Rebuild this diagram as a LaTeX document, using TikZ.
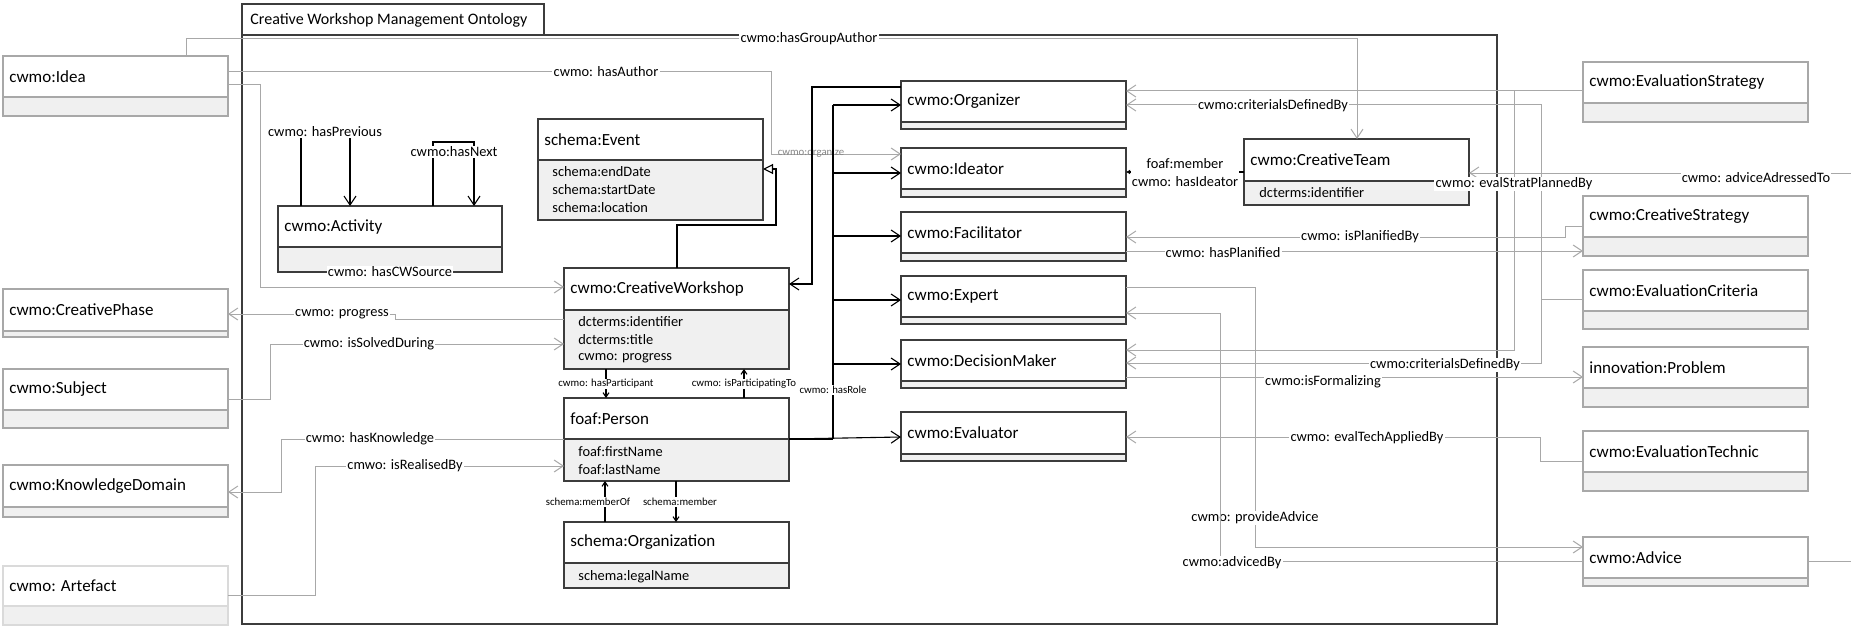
\documentclass[tikz,border=0pt]{standalone}
\usepackage{fontspec}
\setmainfont{Carlito}
\usetikzlibrary{arrows.meta,fit,calc}
\definecolor{lg}{HTML}{A8A8A8}
\definecolor{dk}{HTML}{3C3C3C}
\definecolor{af}{HTML}{F0F0F0}
\definecolor{vlg}{HTML}{DADADA}
\newcommand\umlbox[8]{%
  \fill[af] (#2,#5) rectangle (#4,#6);
  \draw[#8] (#2,#3) rectangle (#4,#6);
  \draw[#8] (#2,#5) -- (#4,#5);
  \node[inner sep=0pt, outer sep=0pt, fit={(#2,#3)(#4,#6)}] (#1) {};
  \node[ttl, anchor=west] (#1-t) at ({#2+6},{(#3+#5)/2}) {#7};
}
\newcommand\umlattr[4]{\node[att, anchor=west] (#1) at (#2,#3) {#4};}
\begin{document}
\begin{tikzpicture}[x=0.5pt, y=-0.5pt,
  ttl/.style={font=\fontsize{8.5}{10}\selectfont, inner sep=0pt},
  att/.style={font=\fontsize{7.2}{8.5}\selectfont, inner sep=0pt},
  lbl/.style={font=\fontsize{7.2}{8.5}\selectfont, inner sep=0.6pt, fill=white},
  slbl/.style={font=\fontsize{5.4}{6.2}\selectfont, inner sep=0.4pt, fill=white},
  ib/.style={draw=dk, line width=0.65pt},
  ob/.style={draw=lg, line width=0.65pt},
  vb/.style={draw=vlg, line width=0.65pt},
  gl/.style={draw=lg, line width=0.5pt},
  bl/.style={draw=black, line width=0.55pt},
  arr/.style={-{Straight Barb[length=4.5pt,width=6pt]}},
  sarr/.style={-{Straight Barb[length=2.2pt,width=3pt]}},
  gen/.style={-{Triangle[open,length=5pt,width=5pt]}},
]
\useasboundingbox (0,0) rectangle (1851,626);
% package
\draw[ib] (242,35) rectangle (1497,624);
\draw[ib] (242,4) rectangle (544,35);
\node[anchor=west, inner sep=0pt, font=\fontsize{8}{9.5}\selectfont] (pkg) at (250,20) {Creative Workshop Management Ontology};

% left boxes
\umlbox{idea}{3}{56}{228}{97}{116}{cwmo:Idea}{ob}
\umlbox{phase}{3}{289}{228}{331}{337}{cwmo:CreativePhase}{ob}
\umlbox{subject}{3}{369}{228}{410}{428}{cwmo:Subject}{ob}
\umlbox{kdomain}{3}{465}{228}{507}{517}{cwmo:KnowledgeDomain}{ob}
\umlbox{artefact}{3}{566}{228}{606}{625}{cwmo: Artefact}{vb}

% inner boxes
\umlbox{activity}{278}{206}{502}{247}{272}{cwmo:Activity}{ib}
\umlbox{event}{538}{119}{763}{160}{220}{schema:Event}{ib}
\umlattr{ev1}{552}{172}{schema:endDate}
\umlattr{ev2}{552}{190}{schema:startDate}
\umlattr{ev3}{552}{208}{schema:location}
\umlbox{cw}{564}{268}{789}{310}{369}{cwmo:CreativeWorkshop}{ib}
\umlattr{cw1}{578}{322}{dcterms:identifier}
\umlattr{cw2}{578}{340}{dcterms:title}
\umlattr{cw3}{578}{358}{cwmo: progress}
\umlbox{person}{564}{398}{789}{439}{481}{foaf:Person}{ib}
\umlattr{pe1}{578}{452}{foaf:firstName}
\umlattr{pe2}{578}{470}{foaf:lastName}
\umlbox{org}{564}{522}{789}{563}{588}{schema:Organization}{ib}
\umlattr{or1}{578}{577}{schema:legalName}
\umlbox{organizer}{901}{81}{1126}{122}{129}{cwmo:Organizer}{ib}
\umlbox{ideator}{901}{148}{1126}{189}{197}{cwmo:Ideator}{ib}
\umlbox{facilitator}{901}{212}{1126}{253}{261}{cwmo:Facilitator}{ib}
\umlbox{expert}{901}{276}{1126}{317}{324}{cwmo:Expert}{ib}
\umlbox{dmaker}{901}{340}{1126}{381}{388}{cwmo:DecisionMaker}{ib}
\umlbox{evaluator}{901}{412}{1126}{454}{461}{cwmo:Evaluator}{ib}
\umlbox{team}{1244}{139}{1469}{181}{205}{cwmo:CreativeTeam}{ib}
\umlattr{te1}{1259}{193}{dcterms:identifier}

% right boxes
\umlbox{evstrat}{1583}{62}{1808}{103}{122}{cwmo:EvaluationStrategy}{ob}
\umlbox{crstrat}{1583}{196}{1808}{237}{256}{cwmo:CreativeStrategy}{ob}
\umlbox{evcrit}{1583}{270}{1808}{311}{329}{cwmo:EvaluationCriteria}{ob}
\umlbox{problem}{1583}{347}{1808}{388}{407}{innovation:Problem}{ob}
\umlbox{evtech}{1583}{431}{1808}{472}{491}{cwmo:EvaluationTechnic}{ob}
\umlbox{advice}{1583}{537}{1808}{578}{586}{cwmo:Advice}{ob}

\coordinate (outA) at (1851,173);
\coordinate (outB) at (1851,561);

% ---- gray connectors, left part
\draw[gl,arr] (186,0 |- idea.north) -- (186,39) -- (1357,39) -- (1357,0 |- team.north);
\node[lbl] (lGroup) at (809,39) {cwmo:hasGroupAuthor};
\draw[gl,arr] (idea.east |- 0,72) -- (771,72) -- (771,154) -- (ideator.west |- 0,154);
\node[lbl] (lAuthor) at (606,72) {cwmo: hasAuthor};
\node[font=\fontsize{5.4}{6.2}\selectfont, inner sep=0pt, text=lg!80!black] (lOrg) at (811,153) {cwmo:organize};
\draw[gl,arr] (idea.east |- 0,85) -- (260,85) -- (260,287) -- (cw.west |- 0,287);
\node[lbl] (lSource) at (390,272) {cwmo: hasCWSource};
\draw[gl,arr] (cw.west |- 0,319) -- (395,319) -- (395,314) -- (phase.east |- 0,314);
\node[lbl] (lProg) at (342,314) {cwmo: progress};
\draw[gl,arr] (subject.east |- 0,399) -- (270,399) -- (270,344) -- (cw.west |- 0,344);
\node[lbl] (lSolved) at (369,344) {cwmo: isSolvedDuring};
\draw[gl,arr] (person.west |- 0,439) -- (281,439) -- (281,492) -- (kdomain.east |- 0,492);
\node[lbl] (lKnow) at (370,439) {cwmo: hasKnowledge};
\draw[gl,arr] (artefact.east |- 0,595) -- (315,595) -- (315,466) -- (person.west |- 0,466);
\node[lbl] (lReal) at (405,466) {cmwo: isRealisedBy};

% ---- black connectors
\draw[bl,arr] (301,0 |- activity.north) -- (301,132) -- (350,132) -- (350,0 |- activity.north);
\node[lbl] (lPrev) at (325,132) {cwmo: hasPrevious};
\draw[bl,arr] (433,0 |- activity.north) -- (433,142) -- (474,142) -- (474,0 |- activity.north);
\node[lbl] (lNext) at (454,152) {cwmo:hasNext};
\draw[bl,gen] (677,0 |- cw.north) -- (677,225) -- (776,225) -- (776,169) -- (event.east |- 0,169);
\draw[bl,arr] (organizer.west |- 0,87) -- (812,87) -- (812,284) -- (cw.east |- 0,284);
\draw[bl] (833,105) -- (833,439);
\draw[draw=black, line width=1.1pt] (person.east |- 0,439) -- (833,439);
\draw[bl,arr] (833,105) -- (organizer.west |- 0,105);
\draw[bl,arr] (833,173) -- (ideator.west |- 0,173);
\draw[bl,arr] (833,236) -- (facilitator.west |- 0,236);
\draw[bl,arr] (833,300) -- (expert.west |- 0,300);
\draw[bl,arr] (833,364) -- (dmaker.west |- 0,364);
\draw[bl,arr] (person.east |- 0,439) -- (evaluator.west |- 0,437);
\node[slbl] (lRole) at (833,390) {cwmo: hasRole};
\draw[bl,sarr] (606,0 |- cw.south) -- (606,0 |- person.north);
\node[slbl] (lPart) at (606,384) {cwmo: hasParticipant};
\draw[bl,sarr] (744,0 |- person.north) -- (744,0 |- cw.south);
\node[slbl] (lPartTo) at (744,384) {cwmo: isParticipatingTo};
\draw[bl,sarr] (605,0 |- org.north) -- (605,0 |- person.south);
\node[slbl] (lMemOf) at (588,502) {schema:memberOf};
\draw[bl,sarr] (676,0 |- person.south) -- (676,0 |- org.north);
\node[slbl] (lMem) at (680,502) {schema:member};
\draw[bl,-{Latex[length=2pt,width=2.4pt]}] (team.west |- 0,172) -- (ideator.east |- 0,172);
\node[lbl, align=center, font=\fontsize{7.2}{9}\selectfont] (lTeam) at (1185,173) {foaf:member\\cwmo: hasIdeator};

% ---- gray connectors, right part
\draw[gl,arr] (evstrat.west |- 0,91) -- (organizer.east |- 0,91);
\draw[gl,arr] (1514,91) -- (1514,350) -- (dmaker.east |- 0,350);
\draw[gl,arr] (evcrit.west |- 0,299) -- (1541,299) -- (1541,105) -- (organizer.east |- 0,105);
\draw[gl,arr] (1541,299) -- (1541,363) -- (dmaker.east |- 0,363);
\draw[gl,arr] (outA) -- (team.east |- 0,173);
\draw[gl] (advice.east |- 0,561) -- (outB);
\draw[gl,arr] (crstrat.west |- 0,226) -- (1565,226) -- (1565,237) -- (facilitator.east |- 0,237);
\draw[gl,arr] (facilitator.east |- 0,251) -- (crstrat.west |- 0,251);
\draw[gl,arr] (dmaker.east |- 0,377) -- (problem.west |- 0,377);
\draw[gl,arr] (evtech.west |- 0,461) -- (1540,461) -- (1540,437) -- (evaluator.east |- 0,437);
\draw[gl,arr] (expert.east |- 0,287) -- (1255,287) -- (1255,547) -- (advice.west |- 0,547);
\node[lbl] (lProv) at (1255,518) {cwmo: provideAdvice};
\draw[gl,arr] (advice.west |- 0,561) -- (1220,561) -- (1220,313) -- (expert.east |- 0,313);
\node[lbl] (lAdv) at (1232,563) {cwmo:advicedBy};
\node[lbl] (lStrat) at (1514,184) {cwmo: evalStratPlannedBy};
\node[lbl] (lCrit1) at (1273,106) {cwmo:criterialsDefinedBy};
\node[lbl] (lCrit2) at (1445,365) {cwmo:criterialsDefinedBy};
\node[lbl] (lAddr) at (1756,178) {cwmo: adviceAdressedTo};
\node[lbl] (lPlanBy) at (1360,237) {cwmo: isPlanifiedBy};
\node[lbl] (lPlan) at (1223,253) {cwmo: hasPlanified};
\node[lbl] (lForm) at (1323,382) {cwmo:isFormalizing};
\node[lbl] (lTech) at (1367,438) {cwmo: evalTechAppliedBy};
\end{tikzpicture}
\end{document}
